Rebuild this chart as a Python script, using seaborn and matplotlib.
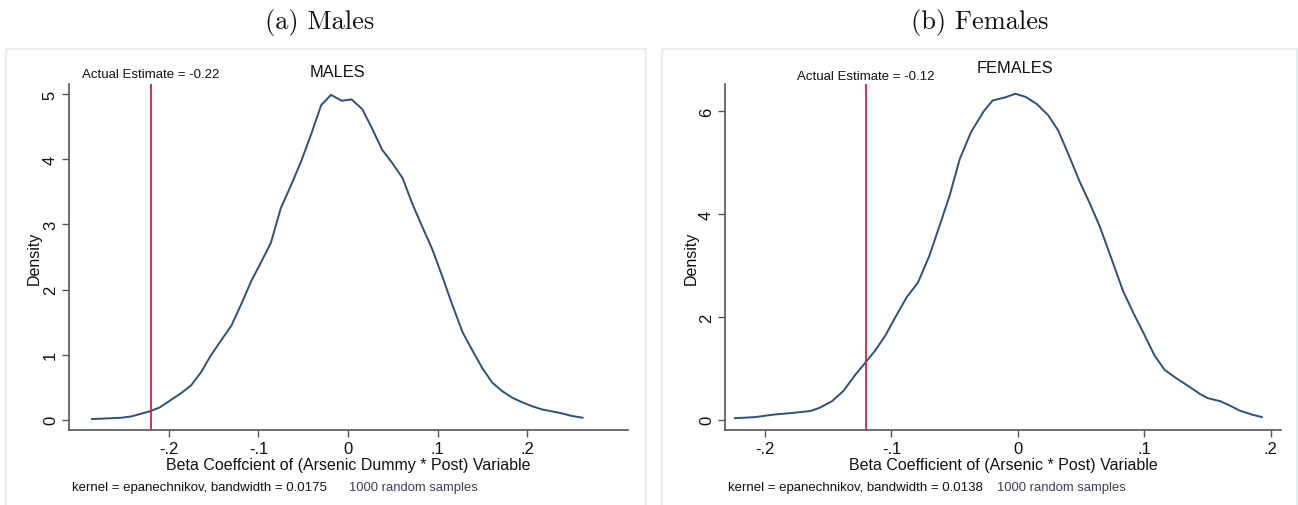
import numpy as np
import pandas as pd
import matplotlib
matplotlib.use("Agg")
import matplotlib.pyplot as plt
import seaborn as sns

# ---------------- data ----------------
males_x = [-0.286, -0.253, -0.242, -0.221, -0.210, -0.197, -0.186, -0.175, -0.164, -0.153,
           -0.142, -0.130, -0.119, -0.108, -0.097, -0.086, -0.075, -0.063, -0.052, -0.041,
           -0.030, -0.019, -0.007, 0.004, 0.016, 0.027, 0.038, 0.049, 0.061, 0.072,
           0.083, 0.094, 0.105, 0.116, 0.128, 0.139, 0.150, 0.161, 0.172, 0.183,
           0.194, 0.205, 0.216, 0.227, 0.238, 0.249, 0.262]
males_y = [0.01, 0.03, 0.05, 0.13, 0.19, 0.31, 0.41, 0.53, 0.73, 0.99,
           1.21, 1.45, 1.78, 2.13, 2.42, 2.72, 3.25, 3.62, 3.98, 4.39,
           4.83, 4.99, 4.90, 4.92, 4.77, 4.47, 4.15, 3.95, 3.71, 3.31,
           2.96, 2.62, 2.21, 1.78, 1.34, 1.06, 0.79, 0.57, 0.44, 0.34,
           0.27, 0.21, 0.16, 0.13, 0.10, 0.06, 0.03]

females_x = [-0.224, -0.208, -0.193, -0.179, -0.164, -0.157, -0.147, -0.138, -0.129, -0.120,
             -0.113, -0.105, -0.097, -0.088, -0.079, -0.070, -0.062, -0.054, -0.046, -0.037,
             -0.027, -0.020, -0.010, -0.002, 0.006, 0.015, 0.024, 0.032, 0.041, 0.049,
             0.057, 0.065, 0.074, 0.083, 0.091, 0.099, 0.108, 0.116, 0.125, 0.135,
             0.144, 0.150, 0.160, 0.168, 0.175, 0.185, 0.193]
females_y = [0.03, 0.05, 0.10, 0.13, 0.17, 0.23, 0.36, 0.56, 0.86, 1.13,
             1.34, 1.63, 1.99, 2.38, 2.67, 3.19, 3.77, 4.36, 5.07, 5.60,
             6.00, 6.21, 6.27, 6.34, 6.28, 6.14, 5.92, 5.62, 5.10, 4.62,
             4.20, 3.74, 3.13, 2.51, 2.09, 1.70, 1.25, 0.97, 0.81, 0.65,
             0.50, 0.42, 0.36, 0.27, 0.18, 0.10, 0.05]

males_estimate = -0.22
females_estimate = -0.12

males_xticks = [-0.2, -0.1, 0.0, 0.1, 0.2]
males_xticklabels = ["-.2", "-.1", "0", ".1", ".2"]
males_yticks = [0, 1, 2, 3, 4, 5]
females_xticks = [-0.2, -0.1, 0.0, 0.1, 0.2]
females_xticklabels = ["-.2", "-.1", "0", ".1", ".2"]
females_yticks = [0, 2, 4, 6]

# ---------------- style ----------------
sns.set_style("white")
plt.rcParams['font.family'] = ['Liberation Sans', 'DejaVu Sans']

LINE = '#2d5177'
RED = '#d81e4a'
SPINE = '#555555'
FRAME = '#e3ebee'

fig = plt.figure(figsize=(12.98, 5.06), dpi=100)

# panel frames
for (x0, x1) in [(6, 646), (662, 1297)]:
    fig.patches.append(plt.Rectangle((x0 / 1298, -0.05), (x1 - x0) / 1298, (506 - 50) / 506 + 0.05,
                                     transform=fig.transFigure, fill=False,
                                     edgecolor=FRAME, linewidth=1.2, zorder=0))

panels = [
    dict(rect=[69 / 1298, 1 - 431 / 506, (628 - 69) / 1298, (431 - 85) / 506],
         x=males_x, y=males_y, est=males_estimate, xlim=(-0.3114, 0.3125), ylim=(-0.158, 5.157),
         xticks=males_xticks, xtl=males_xticklabels, yticks=males_yticks,
         title="(a) Males", inner="MALES", inner_pos=(0.481, 1.035), est_y=1.029,
         xlabel="Beta Coeffcient of (Arsenic Dummy * Post) Variable", ylab_x=-0.049,
         note="kernel = epanechnikov, bandwidth = 0.0175", note_x=72, samp_x=349, title_x=320),
    dict(rect=[725 / 1298, 1 - 431 / 506, (1281 - 725) / 1298, (431 - 85) / 506],
         x=females_x, y=females_y, est=females_estimate, xlim=(-0.2316, 0.2080), ylim=(-0.2, 6.53),
         xticks=females_xticks, xtl=females_xticklabels, yticks=females_yticks,
         title="(b) Females", inner="FEMALES", inner_pos=(0.5216, 1.049), est_y=1.023,
         xlabel="Beta Coefficient of (Arsenic * Post) Variable", ylab_x=-0.047,
         note="kernel = epanechnikov, bandwidth = 0.0138", note_x=728, samp_x=997, title_x=980),
]

for p in panels:
    ax = fig.add_axes(p['rect'])
    df = pd.DataFrame({'beta': p['x'], 'density': p['y']})
    sns.lineplot(data=df, x='beta', y='density', ax=ax, color=LINE, linewidth=1.4, sort=False)
    ax.axvline(p['est'], color=RED, linewidth=1.3)
    ax.set_xlim(*p['xlim'])
    ax.set_ylim(*p['ylim'])
    ax.set_xticks(p['xticks'])
    ax.set_xticklabels(p['xtl'])
    ax.set_yticks(p['yticks'])
    ax.set_yticklabels([str(v) for v in p['yticks']])
    for s in ['top', 'right']:
        ax.spines[s].set_visible(False)
    for s in ['left', 'bottom']:
        ax.spines[s].set_color(SPINE)
        ax.spines[s].set_linewidth(1.2)
    ax.tick_params(axis='both', which='major', bottom=True, left=True, direction='out',
                   length=5, width=1.0, color=SPINE,
                   labelsize=12, labelcolor='#111111')
    ax.tick_params(axis='x', pad=3)
    ax.tick_params(axis='y', labelrotation=90, pad=3)
    for lab in ax.get_yticklabels():
        lab.set_va('center')
    ax.set_xlabel(p['xlabel'], fontsize=11.5, color='#111111', labelpad=1)
    ax.set_ylabel("Density", fontsize=11.5, color='#111111')
    ax.yaxis.set_label_coords(p['ylab_x'], 0.5)
    ax.text(p['est'], p['est_y'], f"Actual Estimate = {p['est']}", transform=ax.get_xaxis_transform(),
            ha='center', va='center', fontsize=9.5, color='#111111')
    ax.text(p['inner_pos'][0], p['inner_pos'][1], p['inner'], transform=ax.transAxes,
            ha='center', va='center', fontsize=11.8, color='#111111')
    fig.text(p['note_x'] / 1298, 1 - 488 / 506, p['note'], ha='left', va='center',
             fontsize=9.5, color='#111111')
    fig.text(p['samp_x'] / 1298, 1 - 488 / 506, "1000 random samples", ha='left', va='center',
             fontsize=9.4, color='#3a4150')
    fig.text(p['title_x'] / 1298, 1 - 22 / 506, p['title'], ha='center', va='center',
             fontsize=19, family='cmr10', color='#111111')

fig.savefig("out.png", dpi=100)
